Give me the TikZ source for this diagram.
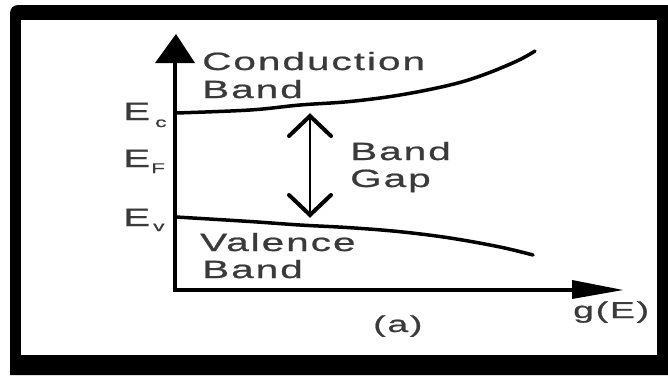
\documentclass[tikz,border=0pt]{standalone}
\usepackage{fontspec}
\newfontfamily\labfont[FakeStretch=1.62,LetterSpace=8,FakeBold=0.8]{Liberation Sans}
\usetikzlibrary{arrows.meta}
\definecolor{txt}{HTML}{3A3A3A}
\begin{document}
\begin{tikzpicture}[x=1pt,y=-1pt,
  lab/.style={inner sep=0pt, anchor=base west, text=txt, font=\labfont\fontsize{25}{30}\selectfont},
  small/.style={inner sep=0pt, anchor=base west, text=txt, font=\labfont\fontsize{23}{28}\selectfont},
  sub/.style={inner sep=0pt, anchor=base west, text=txt, font=\labfont\fontsize{14}{16}\selectfont},
  axis/.style={line width=3.5pt},
  bandline/.style={line width=3.5pt, line cap=round},
  gapline/.style={line width=2.6pt},
  chevron/.style={line width=4pt, line join=miter, line cap=round}]
\useasboundingbox (0,0) rectangle (668,375);
% frame
\fill[black] (668,375) -- (10,375) -- (10,13) arc[start angle=180,end angle=270,radius=8] -- (668,5) -- cycle;
\fill[white] (21,20) rectangle (657,355);
% axes
\coordinate (O) at (175,290);
\coordinate (Ytop) at (175,62);
\coordinate (Xend) at (574,290);
\draw[axis] (Ytop) -- (O) -- (Xend);
\fill (155,63) -- (176,34) -- (195,63) -- cycle;
\fill (572,280) -- (623,290) -- (572,299) -- cycle;
% bands
\draw[bandline] plot[smooth, tension=0.6] coordinates {(176,113) (250,110) (300,105) (350,101.5) (400,95) (450,85) (483,75) (517,61) (535,51)};
\draw[bandline] plot[smooth, tension=0.6] coordinates {(176,217) (250,221.5) (300,225) (350,227.7) (400,231.7) (450,238) (500,247) (533,255)};
% band gap arrow
\coordinate (GT) at (310,116);
\coordinate (GB) at (310,215);
\draw[gapline] (GT) -- (GB);
\draw[chevron] (289,136) -- (GT) -- (331,136);
\draw[chevron] (289,195) -- (GB) -- (331,195);
% labels
\node[lab] (cond) at (202,70) {Conduction};
\node[lab] (cband) at (202,98) {Band};
\node[lab] (val) at (200,251) {Valence};
\node[lab] (vband) at (202,278) {Band};
\node[lab] (gband) at (350,160) {Band};
\node[lab] (gap) at (350,187) {Gap};
\node[lab] (Ec) at (123,120) {E};
\node[sub] (Ecs) at (155,127) {c};
\node[lab] (Ef) at (123,167) {E};
\node[sub] (Efs) at (151,173) {F};
\node[lab] (Ev) at (123,226) {E};
\node[sub] (Evs) at (153,231) {v};
\node[small] (cap) at (373,332) {(a)};
\node[small] (gE) at (573,318) {g(E)};
\end{tikzpicture}
\end{document}
